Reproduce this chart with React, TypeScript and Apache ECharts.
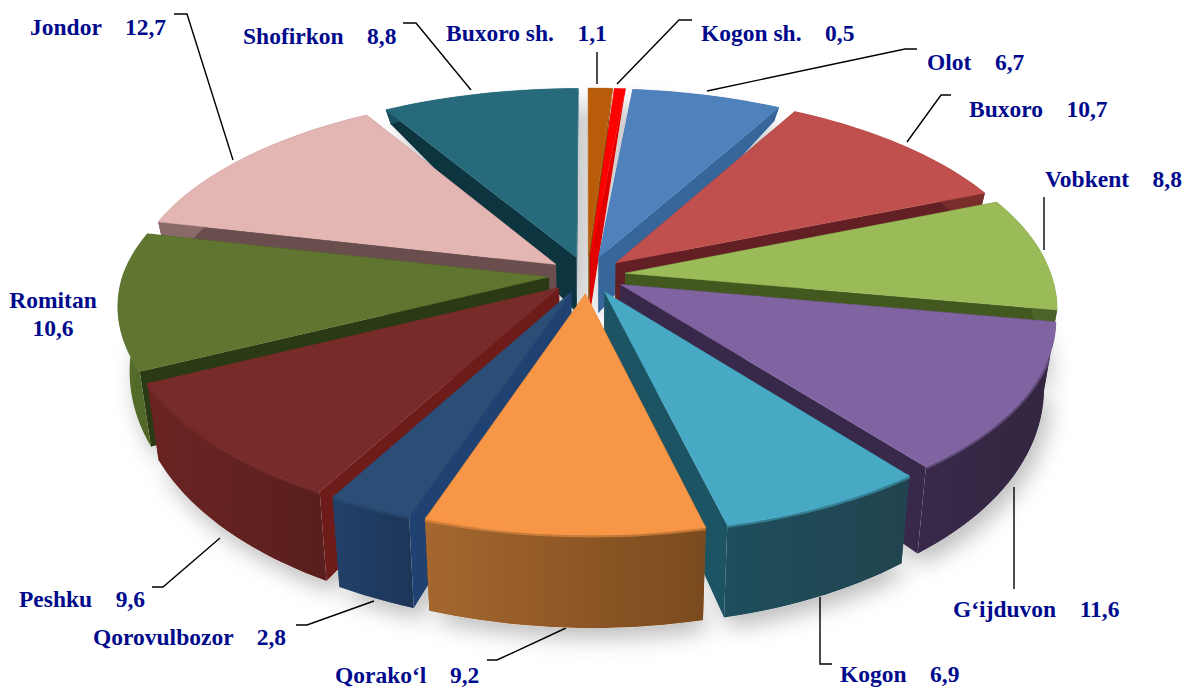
import React, { useEffect, useRef } from "react";
import * as echarts from "echarts";

const names = ["Buxoro sh.", "Kogon sh.", "Olot", "Buxoro", "Vobkent", "G‘ijduvon", "Kogon", "Qorako‘l", "Qorovulbozor", "Peshku", "Romitan", "Jondor", "Shofirkon"];
const values = [1.1, 0.5, 6.7, 10.7, 8.8, 11.6, 6.9, 9.2, 2.8, 9.6, 10.6, 12.7, 8.8];
const tickText = ["1,1", "0,5", "6,7", "10,7", "8,8", "11,6", "6,9", "9,2", "2,8", "9,6", "10,6", "12,7", "8,8"];

const topColors = ["#B85C0A", "#FF0000", "#4F81BD", "#C0504D", "#9BBB59", "#8064A2", "#47A9C4", "#F79646", "#2C4D75", "#772C2A", "#5F7530", "#E3B5B3", "#276A7C"];
const cutColors = ["#8A4508", "#E00000", "#37679A", "#632024", "#43581F", "#38294A", "#1D5464", "#974806", "#1F4272", "#6E1C1A", "#2A3A14", "#6A4E4D", "#0D3540"];
const rimLeft = ["#9A4E08", "#D00000", "#37679A", "#7A2E2C", "#5A7030", "#38294A", "#1F4E5C", "#A5672F", "#22416A", "#6A2422", "#56702C", "#8A6A69", "#1D5060"];
const rimRight = ["#9A4E08", "#D00000", "#37679A", "#7A2E2C", "#4A5F28", "#33263F", "#21444F", "#7A4A1E", "#1D3557", "#591F1D", "#4F6526", "#8A6A69", "#1D5060"];

const labelLayout: [number, number][] = [
  [446, 33], [701, 33], [927, 62], [969, 109], [1045, 179], [953, 609], [840, 674], [335, 675], [93, 637], [19, 599], [53, 314], [30, 27], [243, 36],
];
const leaderLines: number[][][] = [
  [[597, 52], [597, 84]],
  [[692, 20], [679, 20], [617, 84]],
  [[917, 49], [905, 49], [707, 91]],
  [[951, 95], [941, 95], [907, 142]],
  [[1044, 197], [1044, 250]],
  [[1014, 589], [1014, 487]],
  [[832, 664], [820, 664], [820, 597]],
  [[487, 660], [497, 660], [566, 628]],
  [[296, 625], [307, 625], [374, 601]],
  [[152, 587], [163, 587], [220, 538]],
  [],
  [[174, 14], [187, 14], [233, 160]],
  [[403, 23], [416, 23], [471, 90]],
];

const CX = 587, CY = 275, RX = 426, RY = 205, PERSP = 0.15, EXPLODE = 0.09;
const project = (u: number, v: number, z: number): number[] => {
  const s = 1 + PERSP * v;
  return [
    CX + RX * u * s * (1 - 0.025 * z) + 7 * Math.max(v, 0),
    CY + RY * v * s + z * (59 + 40 * v - 8 * v * v),
  ];
};

const total = values.reduce((a, b) => a + b, 0);
let running = 0;
const rows = values.map((val, i) => {
  const start = (running / total) * Math.PI * 2;
  running += val;
  const end = (running / total) * Math.PI * 2;
  return [i, start, end, val];
});
const depth = (r: number[]) => -Math.cos((r[1] + r[2]) / 2);
const sortedRows = [...rows].sort((a, b) => depth(a) - depth(b));

const geometry = (api: any) => {
  const a0 = api.value(1), a1 = api.value(2);
  const mid = (a0 + a1) / 2;
  const ou = Math.sin(mid) * EXPLODE, ov = -Math.cos(mid) * EXPLODE;
  const n = Math.max(2, Math.ceil((a1 - a0) / 0.03));
  const arc: number[][] = [];
  for (let k = 0; k <= n; k++) {
    const a = a0 + ((a1 - a0) * k) / n;
    arc.push([ou + Math.sin(a), ov - Math.cos(a)]);
  }
  return { ou, ov, arc };
};

const renderGround = (_: any, api: any) => {
  const { ou, ov, arc } = geometry(api);
  const pts = [project(ou, ov, 1), ...arc.map((p) => project(p[0], p[1], 1))];
  return {
    type: "polygon",
    shape: { points: pts },
    style: { fill: "#ffffff", shadowBlur: 22, shadowColor: "rgba(0,0,0,0.26)", shadowOffsetX: 6, shadowOffsetY: 10 },
  };
};

const renderSlice = (_: any, api: any) => {
  const i = api.value(0);
  const { ou, ov, arc } = geometry(api);
  const apexT = project(ou, ov, 0), apexB = project(ou, ov, 1);
  const arcT = arc.map((p) => project(p[0], p[1], 0));
  const arcB = arc.map((p) => project(p[0], p[1], 1));
  const cut = cutColors[i];
  const front = arc.filter((p) => p[1] > 0.38).map((p) => project(p[0], p[1], 0));
  const children: any[] = [
    { type: "polygon", shape: { points: [apexT, arcT[0], arcB[0], apexB] }, style: { fill: cut } },
    { type: "polygon", shape: { points: [apexT, arcT[arcT.length - 1], arcB[arcB.length - 1], apexB] }, style: { fill: cut } },
    {
      type: "polygon",
      shape: { points: [...arcT, ...[...arcB].reverse()] },
      style: {
        fill: new echarts.graphic.LinearGradient(0, 0, 1, 0, [
          { offset: 0, color: rimLeft[i] },
          { offset: 1, color: rimRight[i] },
        ]),
      },
    },
    { type: "polygon", shape: { points: [apexT, ...arcT] }, style: { fill: topColors[i], stroke: topColors[i], lineWidth: 0.5 } },
  ];
  if (front.length > 1) {
    children.push({
      type: "polyline",
      shape: { points: front },
      style: { fill: "none", stroke: topColors[i], lineWidth: 5, opacity: 0.55 },
    });
  }
  return { type: "group", children };
};

const labelGraphics = () => {
  const out: any[] = [];
  names.forEach((name, i) => {
    const [x, y] = labelLayout[i];
    const two = name === "Romitan";
    out.push({
      type: "text",
      x,
      y,
      silent: true,
      style: {
        text: two ? `${name}\n${tickText[i]}` : `${name}    ${tickText[i]}`,
        fill: "#000A8C",
        font: "bold 23.5px 'Liberation Serif'",
        lineHeight: 28,
        align: two ? "center" : "left",
        verticalAlign: "middle",
      },
    });
    if (leaderLines[i].length) {
      out.push({
        type: "polyline",
        silent: true,
        shape: { points: leaderLines[i] },
        style: { fill: "none", stroke: "#000000", lineWidth: 1.4 },
      });
    }
  });
  return out;
};

export default function App() {
  const ref = useRef<HTMLDivElement>(null);
  useEffect(() => {
    document.body.style.margin = "0";
    const chart = echarts.init(ref.current!, undefined, { renderer: "svg" });
    chart.setOption({
      animation: false,
      backgroundColor: "#ffffff",
      series: [
        { type: "custom", coordinateSystem: "none", silent: true, z: 1, data: rows, renderItem: renderGround },
        { type: "custom", coordinateSystem: "none", silent: true, z: 2, data: sortedRows, renderItem: renderSlice },
      ],
      graphic: labelGraphics(),
    });
    return () => chart.dispose();
  }, []);
  return <div ref={ref} style={{ width: 1184, height: 689 }} />;
}
